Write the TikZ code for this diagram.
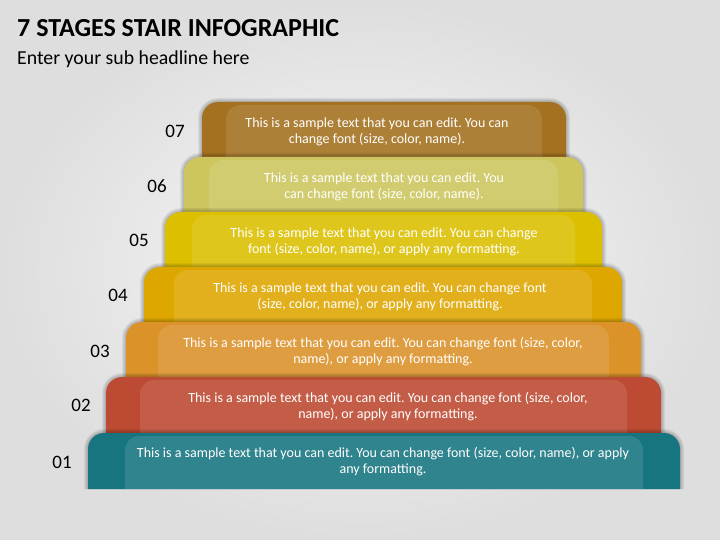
\documentclass[tikz,border=0pt]{standalone}
\usepackage{fontspec}
\setmainfont{Carlito}
\frenchspacing

\definecolor{stepone}{HTML}{177580}
\definecolor{steptwo}{HTML}{BD4A32}
\definecolor{stepthree}{HTML}{DB9229}
\definecolor{stepfour}{HTML}{DEA700}
\definecolor{stepfive}{HTML}{DCC000}
\definecolor{stepsix}{HTML}{CDC65F}
\definecolor{stepseven}{HTML}{A37120}

\tikzset{
  steptext/.style={text=white, align=center, font=\fontsize{14}{16}\selectfont},
  stepnum/.style={font=\fontsize{19}{19}\selectfont},
}

\begin{document}
\begin{tikzpicture}[x=1pt,y=-1pt]
        % background
        \useasboundingbox (0,0) rectangle (720,540);
        \shade[inner color=gray!5, outer color=gray!26] (0,0) rectangle (720,540);

        % Heading
        \node[anchor=base west, inner sep=0, font=\fontsize{26}{26}\selectfont\bfseries] (title) at (17,37) {7 STAGES STAIR INFOGRAPHIC};
        \node[anchor=base west, inner sep=0, font=\fontsize{19.8}{19.8}\selectfont] (subtitle) at (17,65) {Enter your sub headline here};

        % 7 steps, top one first
        \foreach \t/\l/\r/\ins/\col in {102/202/566/24/stepseven, 157/184/583/25/stepsix,
            212/165/602/27/stepfive, 267/144/622/30/stepfour, 322/126/641/32/stepthree,
            377/106/661/34/steptwo, 433/88/680/37/stepone} {
            \foreach \s in {1,2,3,4} {
                \fill[black, opacity=0.06] (\l-\s,\t+56) -- (\l-\s,\t+16) arc[start angle=180, end angle=90, radius=16pt+\s pt]
                    -- (\r-16,\t-\s) arc[start angle=90, end angle=0, radius=16pt+\s pt] -- (\r+\s,\t+56) -- cycle;
            }
            \fill[\col] (\l,\t+56) -- (\l,\t+16) arc[start angle=180, end angle=90, radius=16pt]
                -- (\r-16,\t) arc[start angle=90, end angle=0, radius=16pt] -- (\r,\t+56) -- cycle;
            \fill[white, opacity=0.11] (\l+\ins,\t+56) -- (\l+\ins,\t+17) arc[start angle=180, end angle=90, radius=14pt]
                -- (\r-\ins-14,\t+3) arc[start angle=90, end angle=0, radius=14pt] -- (\r-\ins,\t+56) -- cycle;
        }

        % Numbers
        \node[stepnum] (num7) at (175,131) {07};
        \node[stepnum] (num6) at (157,186) {06};
        \node[stepnum] (num5) at (139,240) {05};
        \node[stepnum] (num4) at (118,295) {04};
        \node[stepnum] (num3) at (100,351) {03};
        \node[stepnum] (num2) at (81,405) {02};
        \node[stepnum] (num1) at (62,462) {01};

        % Labels
        \node[steptext] (txt7) at (377,131.5) {This is a sample text that you can edit. You can\\change font (size, color, name).};
        \node[steptext] (txt6) at (384,186.5) {This is a sample text that you can edit. You\\can change font (size, color, name).};
        \node[steptext] (txt5) at (384,241.5) {This is a sample text that you can edit. You can change\\font (size, color, name), or apply any formatting.};
        \node[steptext] (txt4) at (380,296.5) {This is a sample text that you can edit. You can change font\\(size, color, name), or apply any formatting.};
        \node[steptext] (txt3) at (383,351.5) {This is a sample text that you can edit. You can change font (size, color,\\name), or apply any formatting.};
        \node[steptext] (txt2) at (388,406.5) {This is a sample text that you can edit. You can change font (size, color,\\name), or apply any formatting.};
        \node[steptext] (txt1) at (383,461.5) {This is a sample text that you can edit. You can change font (size, color, name), or apply\\any formatting.};
    \end{tikzpicture}
\end{document}
